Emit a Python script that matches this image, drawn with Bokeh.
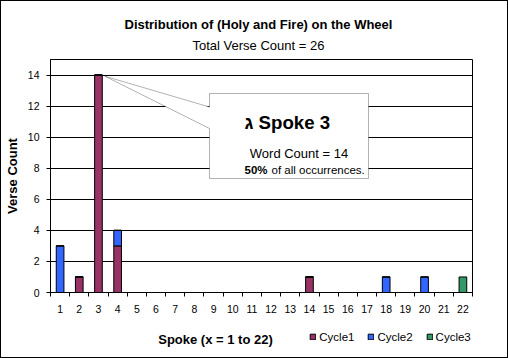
from bokeh.plotting import figure
from bokeh.layouts import column
from bokeh.models import (ColumnDataSource, FixedTicker, Label, Legend, LegendItem,
                          PolyAnnotation, Range1d, Title)
from bokeh.embed import file_html
from bokeh.resources import INLINE

# ---------------- data ----------------
spokes = list(range(1, 23))
cycle1 = [0, 1, 14, 3, 0, 0, 0, 0, 0, 0, 0, 0, 0, 1, 0, 0, 0, 0, 0, 0, 0, 0]
cycle2 = [3, 0, 0, 1, 0, 0, 0, 0, 0, 0, 0, 0, 0, 0, 0, 0, 0, 1, 0, 1, 0, 0]
cycle3 = [0, 0, 0, 0, 0, 0, 0, 0, 0, 0, 0, 0, 0, 0, 0, 0, 0, 0, 0, 0, 0, 1]
series_names = ["Cycle1", "Cycle2", "Cycle3"]
series_colors = ["#993366", "#3366FF", "#339966"]
y_ticks = [0, 2, 4, 6, 8, 10, 12, 14]
title_text = "Distribution of (Holy and Fire) on the Wheel"
subtitle_text = "Total Verse Count = 26"
y_label_text = "Verse Count"
x_label_text = "Spoke (x = 1 to 22)"
callout_head = "\u05d2 Spoke 3"
callout_line2 = "Word Count = 14"
callout_pct = "50%"
callout_rest = "of all occurrences."

FONT = "Liberation Sans"

# frame in window pixels (reference): left 49, right 472, top 59, bottom 292
ORG = 1  # 1px css border
FL, FR, FT, FB = 49, 472, 59, 292
W = 506
SPLIT = 318          # window row where the bottom strip starts
H1 = SPLIT - ORG     # main figure height
H2 = 357 - SPLIT     # bottom strip height

src = ColumnDataSource(dict(spoke=spokes, Cycle1=cycle1, Cycle2=cycle2, Cycle3=cycle3))

p = figure(width=W, height=H1, output_backend="svg", toolbar_location=None,
           x_range=Range1d(0.5, 22.5), y_range=Range1d(0, 15),
           min_border_left=FL - ORG, min_border_right=W - (FR - ORG),
           min_border_top=FT - ORG, min_border_bottom=H1 - (FB - ORG))
p.background_fill_color = "white"
p.border_fill_color = "white"
p.outline_line_color = "black"
p.outline_line_width = 1

# titles (subtitle first = closest to the frame)
p.add_layout(Title(text=subtitle_text, align="left", offset=191 - FL, standoff=13,
                   text_font=FONT, text_font_size="13px", text_font_style="normal",
                   text_color="black"), "above")
main_title = Title(text=title_text, align="left", offset=123 - FL, standoff=0,
                   text_font=FONT, text_font_size="13px", text_font_style="bold",
                   text_color="black")
try:
    main_title.standoff = -4
except Exception:
    main_title.standoff = 0
p.add_layout(main_title, "above")

# axes
xt = FixedTicker(ticks=spokes, minor_ticks=[s - 0.5 for s in spokes] + [spokes[-1] + 0.5])
p.xaxis.ticker = xt
p.xaxis.major_tick_out = 0
p.xaxis.major_tick_in = 0
p.xaxis.minor_tick_out = 4
p.xaxis.minor_tick_in = 0
p.xaxis.minor_tick_line_color = "black"
p.xaxis.major_label_standoff = 8
yt = FixedTicker(ticks=y_ticks, minor_ticks=[])
p.yaxis.ticker = yt
p.ygrid.ticker = yt
p.yaxis.major_tick_out = 4
p.yaxis.major_tick_in = 0
p.yaxis.minor_tick_line_color = None
p.yaxis.major_label_standoff = 7
p.yaxis.axis_label = y_label_text
p.yaxis.axis_label_standoff = 5
p.yaxis.axis_label_text_font = FONT
p.yaxis.axis_label_text_font_size = "13px"
p.yaxis.axis_label_text_font_style = "bold"
p.yaxis.axis_label_text_color = "black"
for ax in (p.xaxis, p.yaxis):
    ax.major_label_text_font = FONT
    ax.major_label_text_font_size = "10.5px"
    ax.major_label_text_color = "black"
    ax.major_tick_line_color = "black"
    ax.axis_line_color = "black"
p.xgrid.visible = False
p.ygrid.grid_line_color = "black"
p.ygrid.grid_line_alpha = 1.0
p.ygrid.grid_line_width = 1

# bars
rs = p.vbar_stack(series_names, x="spoke", width=0.4, source=src,
                  fill_color=series_colors, line_color="black", line_width=1)

def sx(X):
    return X - FL

def sy(Y):
    return FB - Y

# callout box with pointer
cx = [208, 367, 367, 208, 208, 103.3, 208]
cy = [93, 93, 178, 178, 128, 75.7, 106.5]
p.add_layout(PolyAnnotation(xs=[sx(v) for v in cx], ys=[sy(v) for v in cy],
                            xs_units="screen", ys_units="screen",
                            fill_color="white", fill_alpha=1.0,
                            line_color="black", line_width=1))

def lab(fig, text, x, y, size, bold=False, align="left"):
    fig.add_layout(Label(x=x, y=y, x_units="screen", y_units="screen",
                         text=text, text_font=FONT, text_font_size=size,
                         text_font_style="bold" if bold else "normal",
                         text_align=align, text_baseline="alphabetic",
                         text_color="black"))

lab(p, callout_head, sx(243), sy(121.7), "18.67px", bold=True)
lab(p, callout_line2, sx(248.3), sy(153.3), "13px")
lab(p, callout_pct, sx(243), sy(169), "11.5px", bold=True)
lab(p, callout_rest, sx(270), sy(169), "11.5px")

# ---------------- bottom strip: x-axis title + legend ----------------
# (its frame is aligned with the main frame by the column layout)
p2 = figure(width=W, height=H2, output_backend="svg", toolbar_location=None,
            x_range=Range1d(100, 101), y_range=Range1d(100, 101),
            x_axis_location=None, y_axis_location=None, min_border=0)
p2.outline_line_color = None
p2.background_fill_color = "white"
p2.border_fill_color = "white"
p2.grid.visible = False

def sy2(Y):
    return 357 - Y

lab(p2, x_label_text, sx(214), sy2(339), "13px", bold=True, align="center")

# legend swatches: same stacked series, outside this strip's visible ranges
swatches = p2.vbar_stack(series_names, x="spoke", width=0.4, source=src,
                         fill_color=series_colors, line_color="black", line_width=1)
legend = Legend(items=[LegendItem(label=n, renderers=[r]) for n, r in zip(series_names, swatches)],
                orientation="horizontal", location=(sx(308.3), sy2(343.5)),
                border_line_color=None, background_fill_alpha=0,
                padding=0, margin=0, spacing=13, label_standoff=3,
                glyph_width=7, glyph_height=7, label_height=14,
                label_text_font=FONT, label_text_font_size="11.5px",
                label_text_color="black")
p2.add_layout(legend)

layout = column(p, p2, spacing=0, styles={"border": "1px solid black"})

open("out.html", "w").write(file_html(layout, INLINE))
